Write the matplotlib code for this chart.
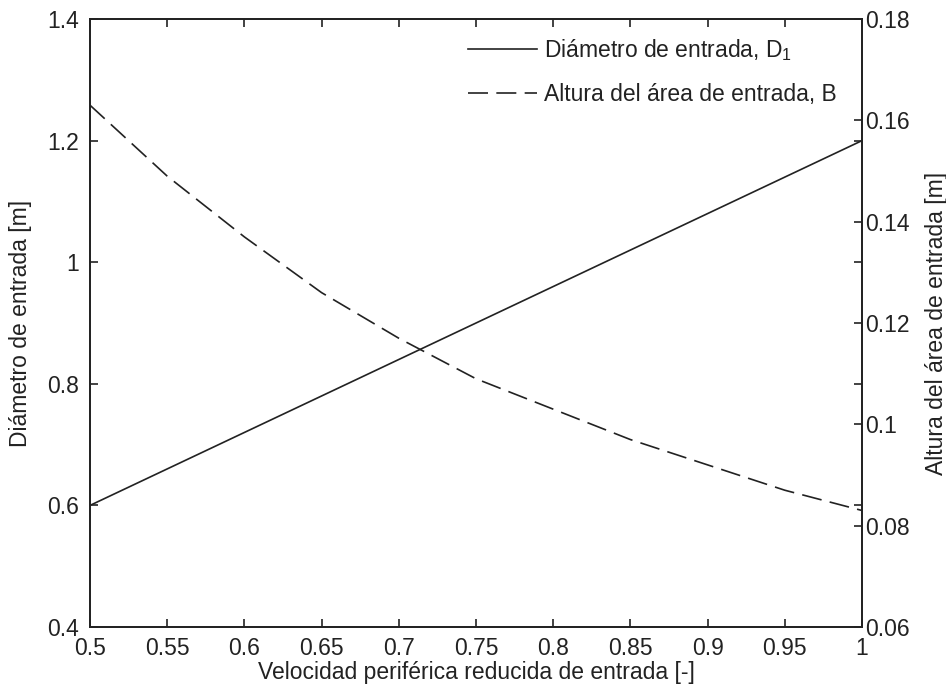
import matplotlib
matplotlib.use("Agg")
import matplotlib.pyplot as plt

plt.rcParams['font.family'] = ['Liberation Sans', 'DejaVu Sans']
plt.rcParams['mathtext.fontset'] = 'custom'
plt.rcParams['mathtext.rm'] = 'Liberation Sans'
plt.rcParams['mathtext.it'] = 'Liberation Sans'

# Reduced inlet peripheral speed [-]
velocidad = [0.50, 0.55, 0.60, 0.65, 0.70, 0.75, 0.80, 0.85, 0.90, 0.95, 1.00]
# Inlet diameter D1 [m]
diametro = [0.60, 0.66, 0.72, 0.78, 0.84, 0.90, 0.96, 1.02, 1.08, 1.14, 1.20]
# Inlet area height B [m]
altura = [0.163, 0.149, 0.137, 0.126, 0.117, 0.109, 0.103, 0.097, 0.092, 0.087, 0.083]

x_ticks = [0.5, 0.55, 0.6, 0.65, 0.7, 0.75, 0.8, 0.85, 0.9, 0.95, 1]
x_labels = ['0.5', '0.55', '0.6', '0.65', '0.7', '0.75', '0.8', '0.85', '0.9', '0.95', '1']
left_ticks = [0.4, 0.6, 0.8, 1.0, 1.2, 1.4]
left_labels = ['0.4', '0.6', '0.8', '1', '1.2', '1.4']
right_ticks = [0.06, 0.08, 0.10, 0.12, 0.14, 0.16, 0.18]
right_labels = ['0.06', '0.08', '0.1', '0.12', '0.14', '0.16', '0.18']

fs = 16.5
ink = '#222222'

fig = plt.figure(figsize=(9.46, 6.92), dpi=100)
ax = fig.add_axes([0.0951, 0.0939, 0.8161, 0.8786])
ax2 = ax.twinx()

l1, = ax.plot(velocidad, diametro, color=ink, lw=1.2, label='Diámetro de entrada, D$_1$')
l2, = ax2.plot(velocidad, altura, color=ink, lw=1.2, dashes=(12, 5),
               label='Altura del área de entrada, B')

ax.set_xlim(0.5, 1)
ax.set_ylim(0.4, 1.4)
ax2.set_ylim(0.06, 0.18)

ax.set_xticks(x_ticks)
ax.set_xticklabels(x_labels, fontsize=fs, color=ink)
ax.set_yticks(left_ticks)
ax.set_yticklabels(left_labels, fontsize=fs, color=ink)
ax2.set_yticks(right_ticks)
ax2.set_yticklabels(right_labels, fontsize=fs, color=ink)

ax.tick_params(axis='both', direction='in', length=6, width=1.2, color=ink,
               top=True, right=True, labelright=False)
ax.tick_params(axis='x', pad=7)
ax.tick_params(axis='y', pad=8)
ax2.tick_params(axis='y', direction='in', length=6, width=1.2, color=ink, pad=2)

for a in (ax, ax2):
    for s in a.spines.values():
        s.set_linewidth(1.3)
        s.set_color(ink)

ax.set_xlabel('Velocidad periférica reducida de entrada [-]', fontsize=fs, color=ink, labelpad=1)
ax.set_ylabel('Diámetro de entrada [m]', fontsize=fs, color=ink, labelpad=11)
ax2.set_ylabel('Altura del área de entrada [m]', fontsize=fs, color=ink, labelpad=11)

leg = ax.legend(handles=[l1, l2], loc='upper right', bbox_to_anchor=(0.991, 1.0),
                frameon=False, fontsize=fs, handlelength=3.0, handletextpad=0.3,
                labelspacing=0.85, borderaxespad=0.4)
for t in leg.get_texts():
    t.set_color(ink)

fig.savefig('out.png', dpi=100, facecolor='white')
